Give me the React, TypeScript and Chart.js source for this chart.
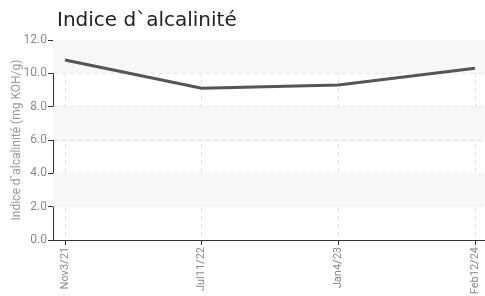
import React, { useEffect, useRef } from "react";
import { Chart, registerables } from "chart.js";

Chart.register(...registerables);

const categories = ["Nov3/21", "Jul11/22", "Jan4/23", "Feb12/24"];
const values = [10.8, 9.1, 9.3, 10.3];
const yTicks = [0, 2, 4, 6, 8, 10, 12];
const titleText = "Indice d`alcalinité";
const yAxisTitle = "Indice d`alcalinité (mg KOH/g)";

const labelFont = "Roboto, 'DejaVu Sans', sans-serif";

const bandsPlugin = {
  id: "bands",
  beforeDatasetsDraw(chart: any) {
    const { ctx, chartArea, scales } = chart;
    const y = scales.y;
    ctx.save();
    ctx.fillStyle = "#f7f7f7";
    const sorted = [...yTicks].sort((a, b) => b - a);
    for (let i = 0; i < sorted.length - 1; i += 2) {
      const top = y.getPixelForValue(sorted[i]);
      const bot = y.getPixelForValue(sorted[i + 1]);
      ctx.fillRect(chartArea.left, top, chartArea.right - chartArea.left, bot - top);
    }
    ctx.restore();
  },
};

const titlePlugin = {
  id: "customTitle",
  afterDraw(chart: any) {
    const { ctx, chartArea } = chart;
    ctx.save();
    ctx.font = "20px 'DejaVu Sans', sans-serif";
    ctx.fillStyle = "#222";
    ctx.textBaseline = "alphabetic";
    ctx.textAlign = "left";
    ctx.fillText(titleText, chartArea.left + 4, 26);
    ctx.restore();
  },
};

export default function App() {
  const ref = useRef<HTMLCanvasElement>(null);
  useEffect(() => {
    if (!ref.current) return;
    const chart = new Chart(ref.current, {
      type: "line",
      data: {
        datasets: [
          {
            data: values.map((v, i) => ({ x: i, y: v })),
            borderColor: "#555555",
            borderWidth: 3,
            pointRadius: 0,
            tension: 0,
          },
        ],
      },
      options: {
        animation: false,
        responsive: false,
        maintainAspectRatio: false,
        layout: { padding: { top: 40, right: 0, left: 0, bottom: 0 } },
        plugins: { legend: { display: false }, tooltip: { enabled: false }, title: { display: false } },
        scales: {
          x: {
            type: "linear",
            min: -0.088,
            max: categories.length - 1 + 0.073,
            afterFit: (s: any) => { s.height = 56; s.paddingLeft = 0; s.paddingRight = 0; },
            ticks: {
              stepSize: 1,
              includeBounds: false,
              autoSkip: false,
              minRotation: 90,
              maxRotation: 90,
              color: "#8a8a8a",
              font: { family: labelFont, size: 11 },
              padding: 2,
              callback: (v: any) => (Number.isInteger(v) ? categories[v] ?? "" : ""),
            },
            grid: { color: "#dddddd", tickColor: "#333333", tickLength: 5, tickWidth: 1 },
            border: { color: "#333333", width: 1, dash: [4, 4] },
          },
          y: {
            min: 0,
            max: 12,
            afterFit: (s: any) => { s.width = 53; s.paddingTop = 0; s.paddingBottom = 0; },
            afterBuildTicks: (s: any) => { s.ticks = yTicks.map((v) => ({ value: v })); },
            ticks: {
              color: "#8a8a8a",
              font: { family: labelFont, size: 12 },
              padding: 1,
              callback: (v: any) => Number(v).toFixed(1),
            },
            title: {
              display: true,
              text: yAxisTitle,
              color: "#999999",
              font: { family: labelFont, size: 12 },
              padding: { top: 10, bottom: 0 },
            },
            grid: { color: "#dddddd", tickColor: "#333333", tickLength: 5, tickWidth: 1 },
            border: { color: "#333333", width: 1, dash: [4, 4] },
          },
        },
      },
      plugins: [bandsPlugin, titlePlugin],
    } as any);
    return () => chart.destroy();
  }, []);
  return (
    <div style={{ position: "absolute", left: 0, top: 0, width: 485, height: 296, background: "#fff" }}>
      <canvas ref={ref} width={485} height={296} style={{ width: 485, height: 296 }} />
    </div>
  );
}
